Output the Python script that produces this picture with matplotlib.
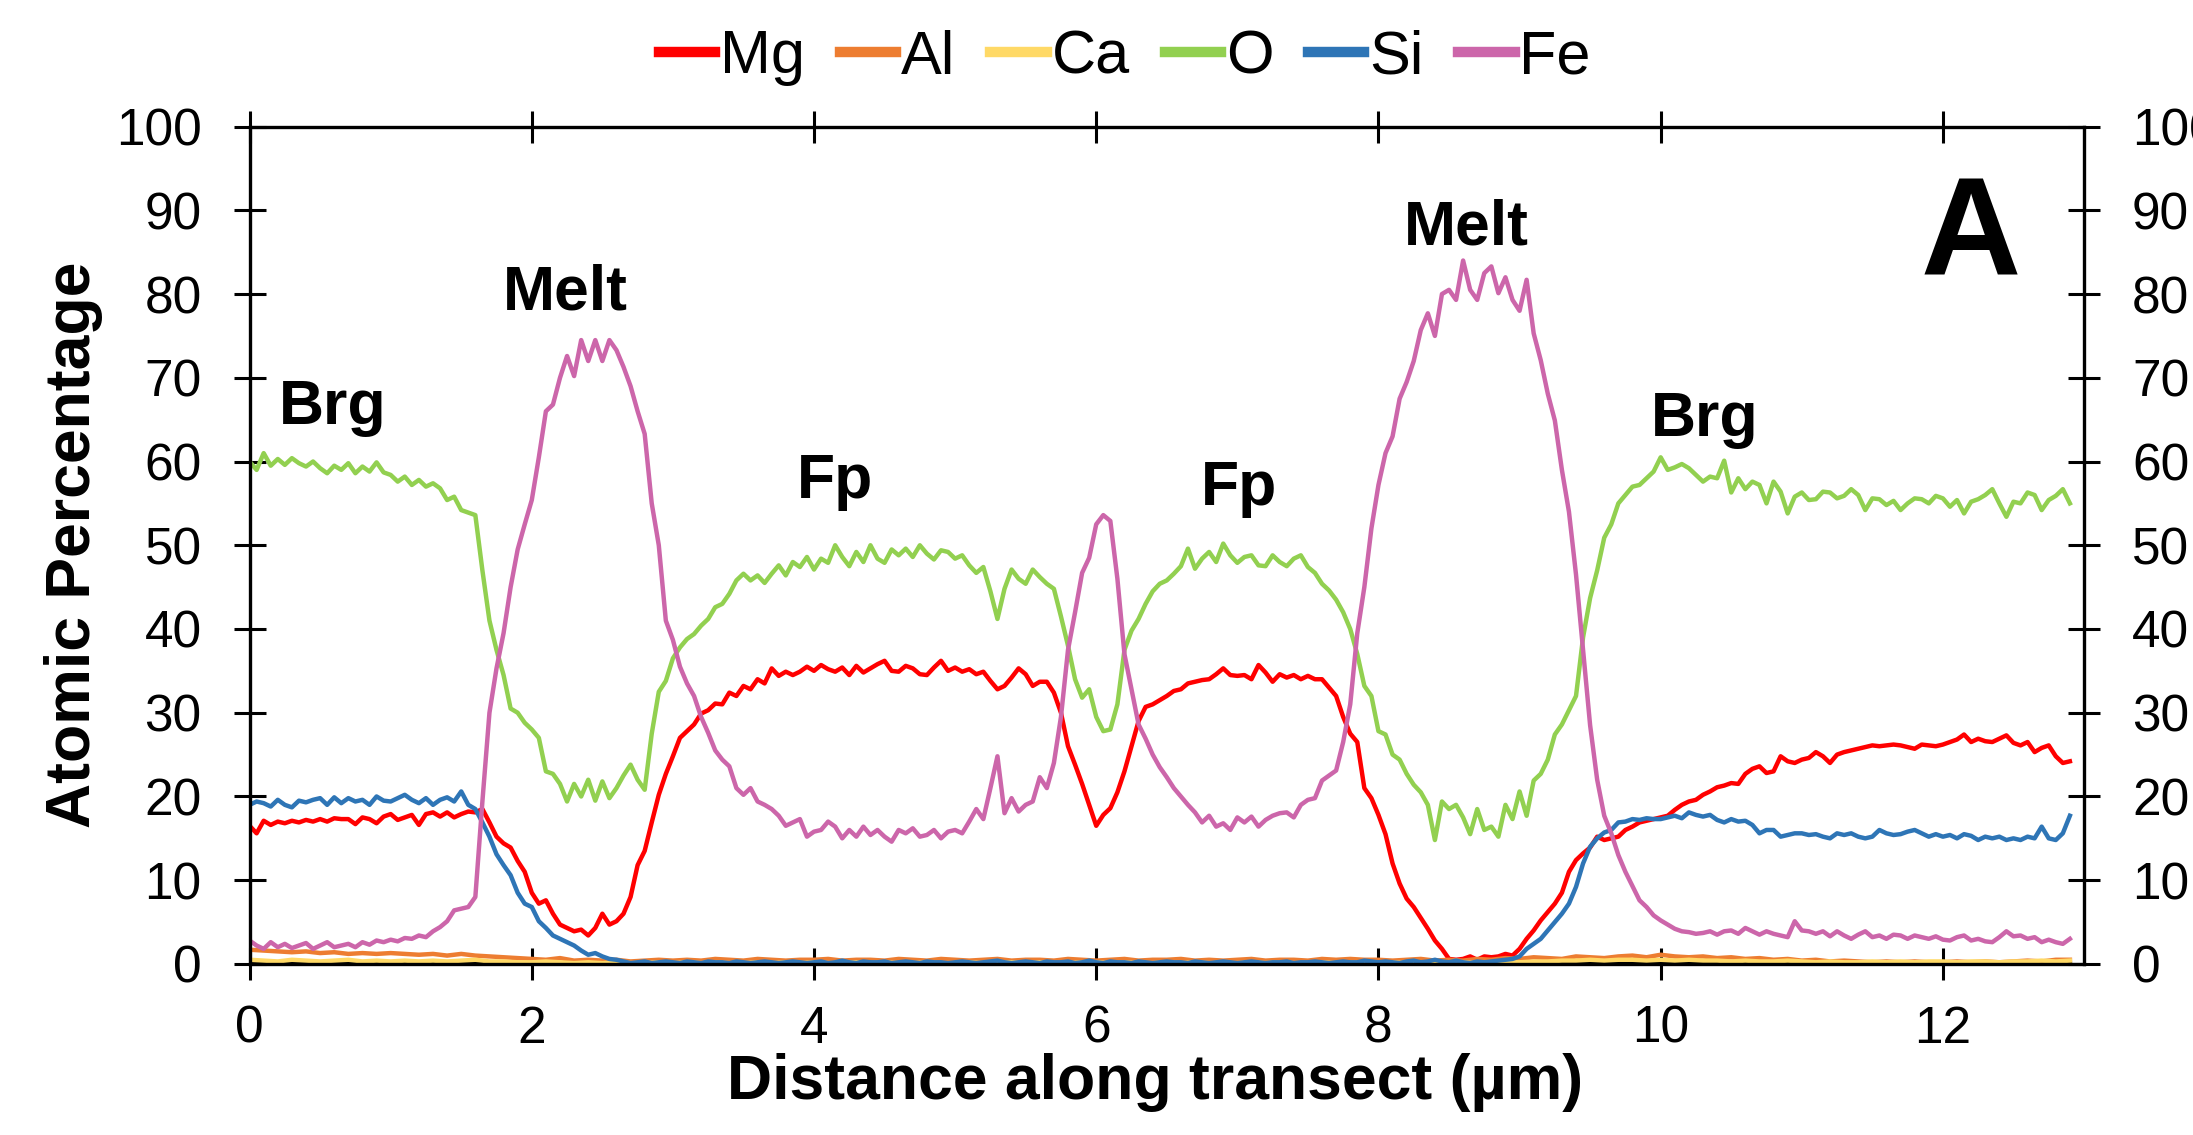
import matplotlib
matplotlib.use("Agg")
import matplotlib.pyplot as plt
import numpy as np

plt.rcParams['font.family'] = ['Liberation Sans', 'DejaVu Sans']

# sample positions along the transect (um)
dist_fine = np.round(np.arange(0, 12.9001, 0.05), 2)    # 259 samples
dist_coarse = np.round(np.arange(0, 12.9001, 0.1), 1)   # 130 samples

# atomic %, one row per micron
mg = [16.5, 15.6, 17.1, 16.6, 17.0, 16.8, 17.1, 16.9, 17.2, 17.0, 17.3, 17.0, 17.4, 17.3, 17.3, 16.7, 17.5, 17.3, 16.8, 17.6,
      17.9, 17.2, 17.5, 17.8, 16.6, 17.9, 18.1, 17.6, 18.1, 17.5, 17.9, 18.2, 18.1, 18.5, 16.9, 15.2, 14.4, 13.9, 12.3, 11.0,
      8.5, 7.2, 7.6, 6.0, 4.7, 4.3, 3.9, 4.1, 3.4, 4.3, 6.0, 4.7, 5.1, 6.0, 8.0, 11.8, 13.5, 16.9, 20.2, 22.7,
      24.8, 27.0, 27.8, 28.6, 29.9, 30.3, 31.1, 31.0, 32.4, 32.0, 33.2, 32.8, 34.0, 33.5, 35.3, 34.4, 34.9, 34.5, 34.9, 35.5,
      35.0, 35.7, 35.2, 34.9, 35.4, 34.5, 35.6, 34.8, 35.3, 35.8, 36.2, 35.0, 34.9, 35.6, 35.3, 34.6, 34.5, 35.4, 36.2, 35.0,
      35.4, 34.9, 35.2, 34.6, 34.9, 33.8, 32.8, 33.2, 34.2, 35.3, 34.6, 33.2, 33.7, 33.7, 32.4, 30.0, 26.0, 23.8, 21.5, 19.0,
      16.5, 17.8, 18.6, 20.5, 23.0, 26.0, 29.0, 30.7, 31.0, 31.5, 32.0, 32.6, 32.8, 33.5, 33.7, 33.9, 34.0, 34.6, 35.3, 34.5,
      34.4, 34.5, 34.0, 35.7, 34.8, 33.7, 34.6, 34.2, 34.5, 34.0, 34.4, 34.0, 34.0, 33.0, 32.0, 29.5, 27.5, 26.5, 21.0, 19.8,
      17.8, 15.5, 12.0, 9.6, 7.8, 6.8, 5.5, 4.2, 2.8, 1.8, 0.6, 0.5, 0.6, 0.9, 0.5, 0.9, 0.8, 0.9, 1.2, 1.0,
      1.8, 3.0, 4.0, 5.2, 6.2, 7.2, 8.5, 11.0, 12.4, 13.2, 13.9, 15.2, 14.8, 15.0, 15.2, 16.0, 16.4, 16.9, 17.1, 17.3,
      17.5, 17.7, 18.4, 19.0, 19.4, 19.6, 20.2, 20.6, 21.1, 21.3, 21.6, 21.5, 22.7, 23.3, 23.6, 22.8, 23.0, 24.8, 24.2, 24.0,
      24.4, 24.6, 25.3, 24.8, 24.0, 25.0, 25.3, 25.5, 25.7, 25.9, 26.1, 26.0, 26.1, 26.2, 26.1, 25.9, 25.7, 26.2, 26.1, 26.0,
      26.2, 26.5, 26.8, 27.4, 26.5, 26.9, 26.6, 26.5, 26.9, 27.3, 26.4, 26.1, 26.5, 25.3, 25.8, 26.1, 24.8, 24.0, 24.2]

o = [60.0, 59.0, 61.0, 59.5, 60.3, 59.6, 60.4, 59.8, 59.4, 60.0, 59.2, 58.6, 59.5, 59.0, 59.8, 58.6, 59.4, 58.8, 59.9, 58.7,
     58.4, 57.6, 58.2, 57.2, 57.8, 57.0, 57.4, 56.8, 55.4, 55.8, 54.2, 53.9, 53.6, 47.0, 41.0, 37.5, 34.5, 30.5, 30.0, 28.8,
     28.0, 27.0, 23.0, 22.7, 21.5, 19.4, 21.5, 20.0, 22.0, 19.5, 21.8, 19.8, 21.0, 22.5, 23.8, 22.0, 20.8, 27.5, 32.5, 33.8,
     36.5, 37.8, 38.8, 39.4, 40.4, 41.2, 42.6, 43.0, 44.2, 45.8, 46.6, 45.8, 46.4, 45.5, 46.6, 47.6, 46.4, 48.0, 47.4, 48.6,
     47.1, 48.4, 47.9, 50.0, 48.6, 47.5, 49.2, 48.0, 50.0, 48.4, 47.9, 49.5, 48.8, 49.6, 48.6, 50.0, 49.0, 48.3, 49.4, 49.2,
     48.4, 48.8, 47.6, 46.7, 47.4, 44.5, 41.2, 44.8, 47.1, 46.0, 45.4, 47.1, 46.2, 45.4, 44.8, 41.5, 38.0, 34.0, 31.8, 32.8,
     29.5, 27.8, 28.0, 31.0, 37.5, 39.8, 41.2, 43.0, 44.5, 45.4, 45.8, 46.6, 47.5, 49.6, 47.2, 48.4, 49.2, 48.0, 50.2, 48.8,
     47.9, 48.6, 48.8, 47.6, 47.5, 48.8, 48.0, 47.5, 48.4, 48.8, 47.4, 46.7, 45.4, 44.6, 43.5, 42.0, 40.0, 37.0, 33.2, 32.0,
     27.8, 27.4, 25.0, 24.4, 22.7, 21.4, 20.5, 19.0, 14.8, 19.4, 18.5, 19.0, 17.5, 15.5, 18.5, 16.0, 16.4, 15.2, 19.0, 17.3,
     20.6, 17.7, 21.9, 22.7, 24.4, 27.4, 28.6, 30.3, 32.0, 39.0, 43.7, 47.0, 50.9, 52.5, 55.0, 56.0, 57.0, 57.2, 58.0, 58.8,
     60.5, 59.0, 59.3, 59.7, 59.2, 58.4, 57.6, 58.2, 58.0, 60.1, 56.3, 58.0, 56.7, 57.6, 57.2, 55.0, 57.6, 56.4, 53.8, 55.8,
     56.3, 55.4, 55.5, 56.4, 56.3, 55.6, 55.9, 56.7, 56.0, 54.2, 55.6, 55.5, 54.8, 55.3, 54.2, 55.0, 55.6, 55.5, 55.0, 55.9,
     55.6, 54.6, 55.4, 53.8, 55.2, 55.5, 56.0, 56.7, 55.0, 53.4, 55.2, 55.0, 56.3, 56.0, 54.2, 55.4, 55.9, 56.7, 55.0]

si = [19.0, 19.4, 19.2, 18.8, 19.6, 19.0, 18.7, 19.5, 19.3, 19.6, 19.8, 19.0, 19.9, 19.2, 19.8, 19.4, 19.6, 19.0, 20.0, 19.5,
      19.4, 19.8, 20.2, 19.6, 19.2, 19.8, 19.0, 19.6, 19.9, 19.4, 20.6, 19.0, 18.5, 16.9, 15.2, 13.1, 11.8, 10.6, 8.5, 7.2,
      6.8, 5.1, 4.3, 3.4, 3.0, 2.6, 2.2, 1.6, 1.1, 1.3, 0.9, 0.6, 0.5, 0.3, 0.1, 0.2, 0.3, 0.1, 0.2, 0.3,
      0.2, 0.1, 0.3, 0.2, 0.1, 0.3, 0.2, 0.2, 0.1, 0.3, 0.2, 0.1, 0.2, 0.3, 0.2, 0.1, 0.2, 0.3, 0.2, 0.1,
      0.2, 0.3, 0.1, 0.2, 0.4, 0.2, 0.1, 0.3, 0.2, 0.2, 0.3, 0.1, 0.2, 0.3, 0.2, 0.1, 0.3, 0.2, 0.2, 0.1,
      0.2, 0.3, 0.2, 0.1, 0.2, 0.3, 0.4, 0.2, 0.1, 0.2, 0.3, 0.2, 0.1, 0.3, 0.2, 0.2, 0.3, 0.1, 0.2, 0.4,
      0.2, 0.1, 0.3, 0.2, 0.2, 0.1, 0.3, 0.2, 0.1, 0.2, 0.3, 0.2, 0.2, 0.1, 0.3, 0.2, 0.1, 0.2, 0.3, 0.2,
      0.1, 0.2, 0.3, 0.2, 0.1, 0.2, 0.2, 0.3, 0.1, 0.2, 0.2, 0.3, 0.2, 0.1, 0.2, 0.3, 0.2, 0.2, 0.4, 0.3,
      0.2, 0.3, 0.2, 0.1, 0.3, 0.4, 0.2, 0.3, 0.5, 0.3, 0.2, 0.4, 0.2, 0.1, 0.3, 0.2, 0.3, 0.4, 0.5, 0.6,
      0.9, 1.8, 2.4, 3.0, 4.0, 5.0, 6.0, 7.2, 9.2, 12.0, 14.0, 15.0, 15.7, 16.0, 16.9, 17.0, 17.3, 17.2, 17.4, 17.3,
      17.3, 17.5, 17.7, 17.4, 18.1, 17.8, 17.6, 17.8, 17.2, 16.9, 17.3, 17.0, 17.1, 16.6, 15.6, 16.0, 16.0, 15.2, 15.4, 15.6,
      15.6, 15.4, 15.5, 15.2, 15.0, 15.6, 15.4, 15.6, 15.2, 15.0, 15.2, 16.0, 15.6, 15.4, 15.5, 15.8, 16.0, 15.6, 15.2, 15.5,
      15.2, 15.4, 15.0, 15.5, 15.3, 14.8, 15.2, 15.0, 15.2, 14.8, 15.0, 14.8, 15.2, 15.0, 16.4, 15.0, 14.8, 15.6, 17.7]

fe = [2.8, 2.2, 1.8, 2.6, 2.0, 2.4, 1.9, 2.2, 2.5, 1.8, 2.2, 2.6, 2.0, 2.2, 2.4, 2.0, 2.6, 2.3, 2.8, 2.6,
      2.9, 2.7, 3.1, 3.0, 3.4, 3.2, 3.9, 4.4, 5.1, 6.4, 6.6, 6.8, 8.0, 19.4, 30.0, 35.3, 39.5, 45.0, 49.5, 52.5,
      55.4, 60.5, 66.0, 66.8, 70.0, 72.6, 70.2, 74.5, 72.0, 74.5, 72.0, 74.5, 73.3, 71.3, 69.0, 66.0, 63.3, 55.0, 50.0, 41.0,
      38.7, 35.5, 33.5, 32.0, 29.5, 27.6, 25.5, 24.4, 23.6, 21.0, 20.2, 21.0, 19.4, 19.0, 18.5, 17.7, 16.5, 16.9, 17.3, 15.2,
      15.8, 16.0, 17.0, 16.4, 15.0, 16.0, 15.2, 16.4, 15.4, 16.0, 15.2, 14.6, 16.0, 15.6, 16.2, 15.2, 15.4, 16.0, 15.0, 15.8,
      16.0, 15.6, 17.0, 18.5, 17.3, 21.0, 24.8, 18.0, 19.8, 18.2, 19.0, 19.4, 22.3, 21.0, 24.0, 29.5, 37.5, 42.0, 46.7, 48.5,
      52.5, 53.6, 52.9, 46.0, 37.0, 32.8, 28.6, 26.9, 25.0, 23.5, 22.3, 21.0, 20.0, 19.0, 18.1, 16.9, 17.7, 16.4, 16.8, 16.0,
      17.5, 16.9, 17.6, 16.4, 17.2, 17.7, 18.0, 18.1, 17.5, 19.0, 19.6, 19.8, 21.9, 22.5, 23.1, 26.5, 31.0, 39.5, 45.0, 52.0,
      57.2, 61.0, 63.0, 67.5, 69.5, 72.0, 75.7, 77.7, 75.0, 80.0, 80.5, 79.3, 84.0, 80.5, 79.3, 82.5, 83.3, 80.1, 82.0, 79.3,
      78.0, 81.7, 75.3, 72.1, 68.1, 64.9, 59.0, 54.0, 46.5, 37.5, 28.5, 22.0, 17.7, 15.6, 13.0, 11.0, 9.3, 7.6, 6.8, 5.8,
      5.2, 4.7, 4.2, 3.9, 3.8, 3.6, 3.7, 3.9, 3.5, 3.9, 4.0, 3.6, 4.3, 3.9, 3.5, 3.9, 3.6, 3.4, 3.2, 5.1,
      4.0, 3.9, 3.6, 3.9, 3.3, 3.9, 3.4, 3.0, 3.5, 3.9, 3.2, 3.4, 3.0, 3.5, 3.4, 3.0, 3.4, 3.2, 3.0, 3.3,
      2.9, 2.8, 3.2, 3.4, 2.8, 3.0, 2.7, 2.6, 3.2, 3.9, 3.3, 3.4, 3.0, 3.2, 2.6, 2.9, 2.6, 2.4, 3.0]

# minor elements, coarser sampling
al = [1.7, 1.6, 1.5, 1.4, 1.5, 1.3, 1.4, 1.2, 1.3, 1.2,
      1.3, 1.2, 1.1, 1.2, 1.0, 1.2, 1.0, 0.9, 0.8, 0.7,
      0.6, 0.5, 0.7, 0.4, 0.5, 0.4, 0.5, 0.3, 0.4, 0.5,
      0.4, 0.5, 0.4, 0.6, 0.5, 0.4, 0.6, 0.5, 0.4, 0.5,
      0.5, 0.6, 0.4, 0.5, 0.5, 0.4, 0.6, 0.5, 0.4, 0.6,
      0.5, 0.4, 0.5, 0.6, 0.4, 0.5, 0.5, 0.4, 0.6, 0.5,
      0.4, 0.5, 0.6, 0.4, 0.5, 0.5, 0.6, 0.4, 0.5, 0.4,
      0.5, 0.6, 0.4, 0.5, 0.5, 0.4, 0.6, 0.5, 0.6, 0.5,
      0.5, 0.4, 0.5, 0.6, 0.4, 0.5, 0.4, 0.6, 0.5, 0.7,
      0.6, 0.8, 0.7, 0.6, 0.9, 0.8, 0.7, 0.9, 1.0, 0.8,
      1.1, 0.9, 0.8, 0.9, 0.7, 0.8, 0.6, 0.7, 0.5, 0.6,
      0.4, 0.5, 0.3, 0.4, 0.3, 0.2, 0.3, 0.2, 0.3, 0.2,
      0.2, 0.3, 0.2, 0.3, 0.2, 0.3, 0.4, 0.3, 0.5, 0.5]

ca = [0.5, 0.4, 0.3, 0.5, 0.4, 0.3, 0.4, 0.5, 0.3, 0.4,
      0.3, 0.4, 0.3, 0.4, 0.3, 0.4, 0.5, 0.3, 0.3, 0.2,
      0.2, 0.3, 0.2, 0.1, 0.2, 0.1, 0.2, 0.1, 0.1, 0.2,
      0.1, 0.2, 0.1, 0.2, 0.1, 0.1, 0.2, 0.1, 0.2, 0.1,
      0.2, 0.1, 0.1, 0.2, 0.1, 0.2, 0.1, 0.1, 0.2, 0.1,
      0.1, 0.2, 0.1, 0.1, 0.2, 0.1, 0.2, 0.1, 0.1, 0.2,
      0.2, 0.1, 0.2, 0.1, 0.1, 0.2, 0.1, 0.2, 0.1, 0.1,
      0.1, 0.2, 0.1, 0.2, 0.1, 0.1, 0.2, 0.1, 0.2, 0.2,
      0.1, 0.2, 0.1, 0.2, 0.1, 0.2, 0.2, 0.1, 0.2, 0.2,
      0.2, 0.3, 0.3, 0.4, 0.4, 0.5, 0.4, 0.5, 0.5, 0.4,
      0.5, 0.4, 0.5, 0.4, 0.4, 0.3, 0.4, 0.3, 0.3, 0.4,
      0.3, 0.2, 0.3, 0.2, 0.2, 0.3, 0.2, 0.3, 0.2, 0.3,
      0.3, 0.2, 0.3, 0.3, 0.2, 0.3, 0.3, 0.4, 0.3, 0.4]

# unlabelled black trace near zero
other = [0.2, 0.1, 0.2, 0.2, 0.1, 0.2, 0.2, 0.1, 0.2, 0.2,
         0.2, 0.1, 0.2, 0.2, 0.1, 0.2, 0.1, 0.1, 0.0, 0.0,
         0.0, 0.0, 0.0, 0.0, 0.0, 0.0, 0.0, 0.0, 0.0, 0.0,
         0.0, 0.0, 0.0, 0.0, 0.0, 0.0, 0.0, 0.0, 0.0, 0.0,
         0.0, 0.0, 0.0, 0.0, 0.0, 0.0, 0.0, 0.0, 0.0, 0.0,
         0.0, 0.0, 0.0, 0.0, 0.0, 0.0, 0.0, 0.0, 0.0, 0.0,
         0.0, 0.0, 0.0, 0.0, 0.0, 0.0, 0.0, 0.0, 0.0, 0.0,
         0.0, 0.0, 0.0, 0.0, 0.0, 0.0, 0.0, 0.0, 0.0, 0.0,
         0.0, 0.0, 0.0, 0.0, 0.0, 0.0, 0.0, 0.0, 0.0, 0.0,
         0.0, 0.0, 0.0, 0.0, 0.0, 0.1, 0.1, 0.2, 0.2, 0.1,
         0.2, 0.1, 0.2, 0.1, 0.1, 0.0, 0.0, 0.0, 0.0, 0.0,
         0.0, 0.0, 0.0, 0.0, 0.0, 0.0, 0.0, 0.0, 0.0, 0.0,
         0.0, 0.0, 0.0, 0.0, 0.0, 0.0, 0.0, 0.0, 0.0, 0.0]

phase_labels = ["Brg", "Melt", "Fp", "Fp", "Melt", "Brg"]
phase_x = [0.59, 2.24, 4.15, 7.01, 8.62, 10.31]
phase_y = [64.5, 78.1, 55.6, 54.8, 85.9, 63.1]

fig = plt.figure(figsize=(21.93, 11.35), dpi=100)
ax = fig.add_axes([0.1138, 0.1507, 0.8365, 0.7378])

lw = 3.2
ax.plot(dist_coarse, other, color="black", lw=lw, label="_nolegend_")
ax.plot(dist_fine, mg, color="#FF0000", lw=lw, label="Mg")
ax.plot(dist_coarse, al, color="#ED7D31", lw=lw, label="Al")
ax.plot(dist_coarse, ca, color="#FFD966", lw=lw, label="Ca")
ax.plot(dist_fine, o, color="#92D050", lw=lw, label="O")
ax.plot(dist_fine, si, color="#2E75B6", lw=lw, label="Si")
ax.plot(dist_fine, fe, color="#CC66AA", lw=lw, label="Fe")

ax.set_xlim(0, 13)
ax.set_ylim(0, 100)
ax.set_xticks(np.arange(0, 13, 2))
ax.set_yticks(np.arange(0, 101, 10))

for sp in ax.spines.values():
    sp.set_linewidth(2.4)
ax.tick_params(axis="both", direction="inout", length=23, width=2.2, labelsize=37)
ax.tick_params(axis="y", left=True, right=True, labelleft=True, labelright=True, pad=23)
ax.tick_params(axis="x", top=True, bottom=True, labeltop=False, pad=18)

for lab, px, py in zip(phase_labels, phase_x, phase_y):
    ax.text(px, py, lab, fontsize=45, fontweight="bold", ha="center", va="baseline")
ax.text(12.2, 82.2, "A", fontsize=100, fontweight="bold", ha="center", va="baseline")

fig.text(74 / 2193, 1 - 545 / 1135, "Atomic Percentage", rotation=90,
         fontsize=45, fontweight="bold", ha="center", va="center")
fig.text(1155 / 2193, 1 - 1082 / 1135, "Distance along transect (µm)",
         fontsize=45, fontweight="bold", ha="center", va="center")

leg = fig.legend(loc="center", bbox_to_anchor=(1125 / 2193, 1 - 58 / 1135), ncol=6,
                 frameon=False, fontsize=44, handlelength=0.92, handletextpad=0.08,
                 columnspacing=0.57)
for h in leg.get_lines():
    h.set_linewidth(7.5)

fig.savefig("out.png", dpi=100)
